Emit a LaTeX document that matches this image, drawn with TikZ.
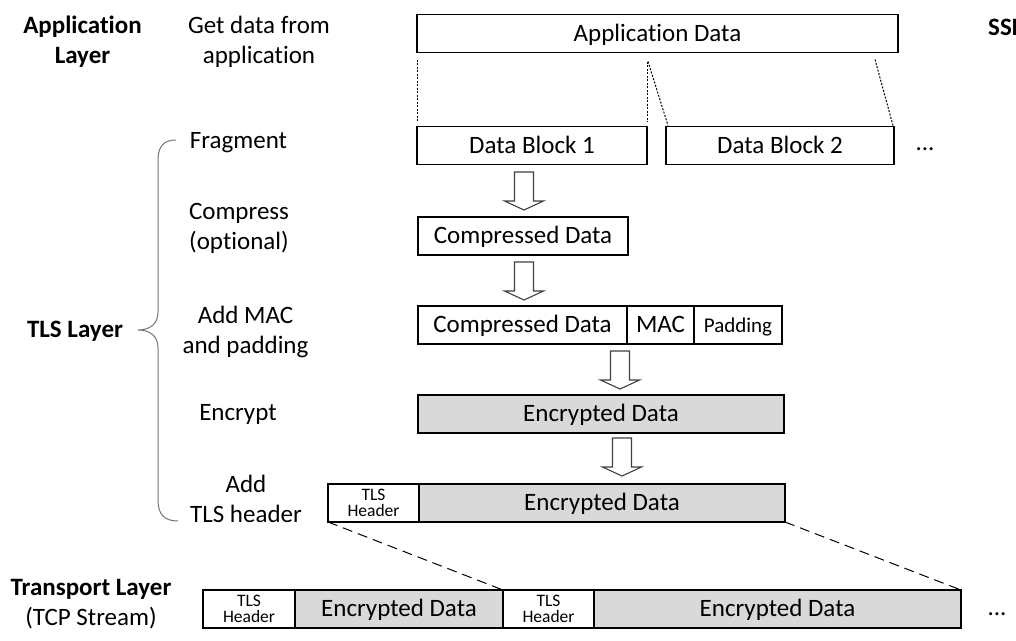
\documentclass[tikz,border=0pt]{standalone}
\usepackage{fontspec}
\setmainfont{Carlito}[Ligatures=NoCommon]
\usetikzlibrary{calc}
\definecolor{encgray}{HTML}{D9D9D9}
\begin{document}
\begin{tikzpicture}[x=1pt,y=-1pt,
  box/.style={draw, line width=1.8pt, inner sep=0pt, outer sep=0pt, minimum height=38pt, text height=15pt, text depth=0pt, font=\fontsize{25}{30}\selectfont},
  encbox/.style={box, fill=encgray},
  hdrbox/.style={draw, line width=1.8pt, inner sep=0pt, outer sep=0pt, minimum height=38pt, align=center, fill=white, font=\fontsize{17.5}{15.5}\selectfont},
  lbl/.style={anchor=base, align=center, inner sep=0pt, font=\fontsize{25}{30}\selectfont},
  blbl/.style={lbl, font=\fontsize{25}{30}\selectfont\bfseries},
  dotline/.style={line width=1pt, dash pattern=on 2pt off 1.5pt},
  dashline/.style={line width=1pt, dash pattern=on 10pt off 6pt},
  bracestyle/.style={line width=1pt, draw=black!55},
  blockarrow/.pic={\draw[line width=1.1pt, draw=black!75, fill=white] (-9.5,0) -- (-9.5,29) -- (-19.5,29) -- (0,38) -- (19.5,29) -- (9.5,29) -- (9.5,0) -- cycle;}
]
\useasboundingbox (0,0) rectangle (1016,640);
\clip (0,0) rectangle (1016,640);

% left labels (base anchor = baseline of the last line)
\node[blbl] (applayer) at (82.5,63) {Application\\Layer};
\node[lbl] (getdata) at (259,63) {Get data from\\application};
\node[lbl] (fragment) at (238.5,148) {Fragment};
\node[lbl] (compress) at (239,249) {Compress\\(optional)};
\node[lbl] (addmac) at (245.5,353) {Add MAC\\and padding};
\node[lbl] (encrypt) at (238,420) {Encrypt};
\node[lbl] (addhdr) at (246,522) {Add\\TLS header};
\node[blbl] (tlslayer) at (75,337) {TLS Layer};
\node[lbl] (transport) at (91,625) {\bfseries Transport Layer\\(TCP Stream)};
\node[blbl, anchor=base west] (ssl) at (988,35) {SSL};

% brace
\draw[bracestyle] (176,140) .. controls (164,140) and (158,146) .. (158,160) -- (158,312)
  .. controls (158,324) and (150,330) .. (138,330)
  .. controls (150,330) and (158,336) .. (158,348) -- (158,500)
  .. controls (158,514) and (164,521) .. (178,521);

% boxes
\node[box, minimum width=481pt] (app) at (657.5,33.5) {Application Data};
\node[box, minimum width=230pt] (db1) at (532,145.5) {Data Block 1};
\node[box, minimum width=228pt] (db2) at (780,145.5) {Data Block 2};
\node[lbl] (more1) at (925,150) {...};

\node[box, minimum width=210pt] (cd) at (523,236) {Compressed Data};

\node[box, minimum width=209pt] (cd2) at (522.5,325) {Compressed Data};
\node[box, minimum width=67pt] (mac) at (660.5,325) {MAC};
\node[box, minimum width=88pt, font=\fontsize{21}{25}\selectfont] (pad) at (738,325) {Padding};

\node[encbox, minimum width=366pt] (enc) at (601,414) {Encrypted Data};

\node[hdrbox, minimum width=91pt] (th1) at (373.5,503) {TLS\\Header};
\node[encbox, minimum width=366pt] (te1) at (602,503) {Encrypted Data};

\node[hdrbox, minimum width=92pt] (bh1) at (249,609) {TLS\\Header};
\node[encbox, minimum width=208pt] (be1) at (399,609) {Encrypted Data};
\node[hdrbox, minimum width=91pt] (bh2) at (548.5,609) {TLS\\Header};
\node[encbox, minimum width=367pt] (be2) at (777.5,609) {Encrypted Data};
\node[lbl] (more2) at (997,615) {...};

% fragment guide lines
\draw[dotline] ($(app.south west)+(0,7)$) -- ($(db1.north west)+(0,-5)$);
\draw[dotline] ($(db1.north east)+(0,-65)$) -- ($(db1.north east)+(0,-5)$);
\draw[dotline] ($(db1.north east)+(1,-65)$) -- ($(db2.north west)+(2,-1)$);
\draw[dotline] ($(app.south east)+(-23,7)$) -- ($(db2.north east)+(-1,-1)$);

% block arrows
\pic at (524,172) {blockarrow};
\pic at (524,262) {blockarrow};
\pic at (620,351) {blockarrow};
\pic at (622,438) {blockarrow};

% record to stream
\draw[dashline] (th1.south west) -- (bh2.north west);
\draw[dashline] (te1.south east) -- (be2.north east);
\end{tikzpicture}
\end{document}
